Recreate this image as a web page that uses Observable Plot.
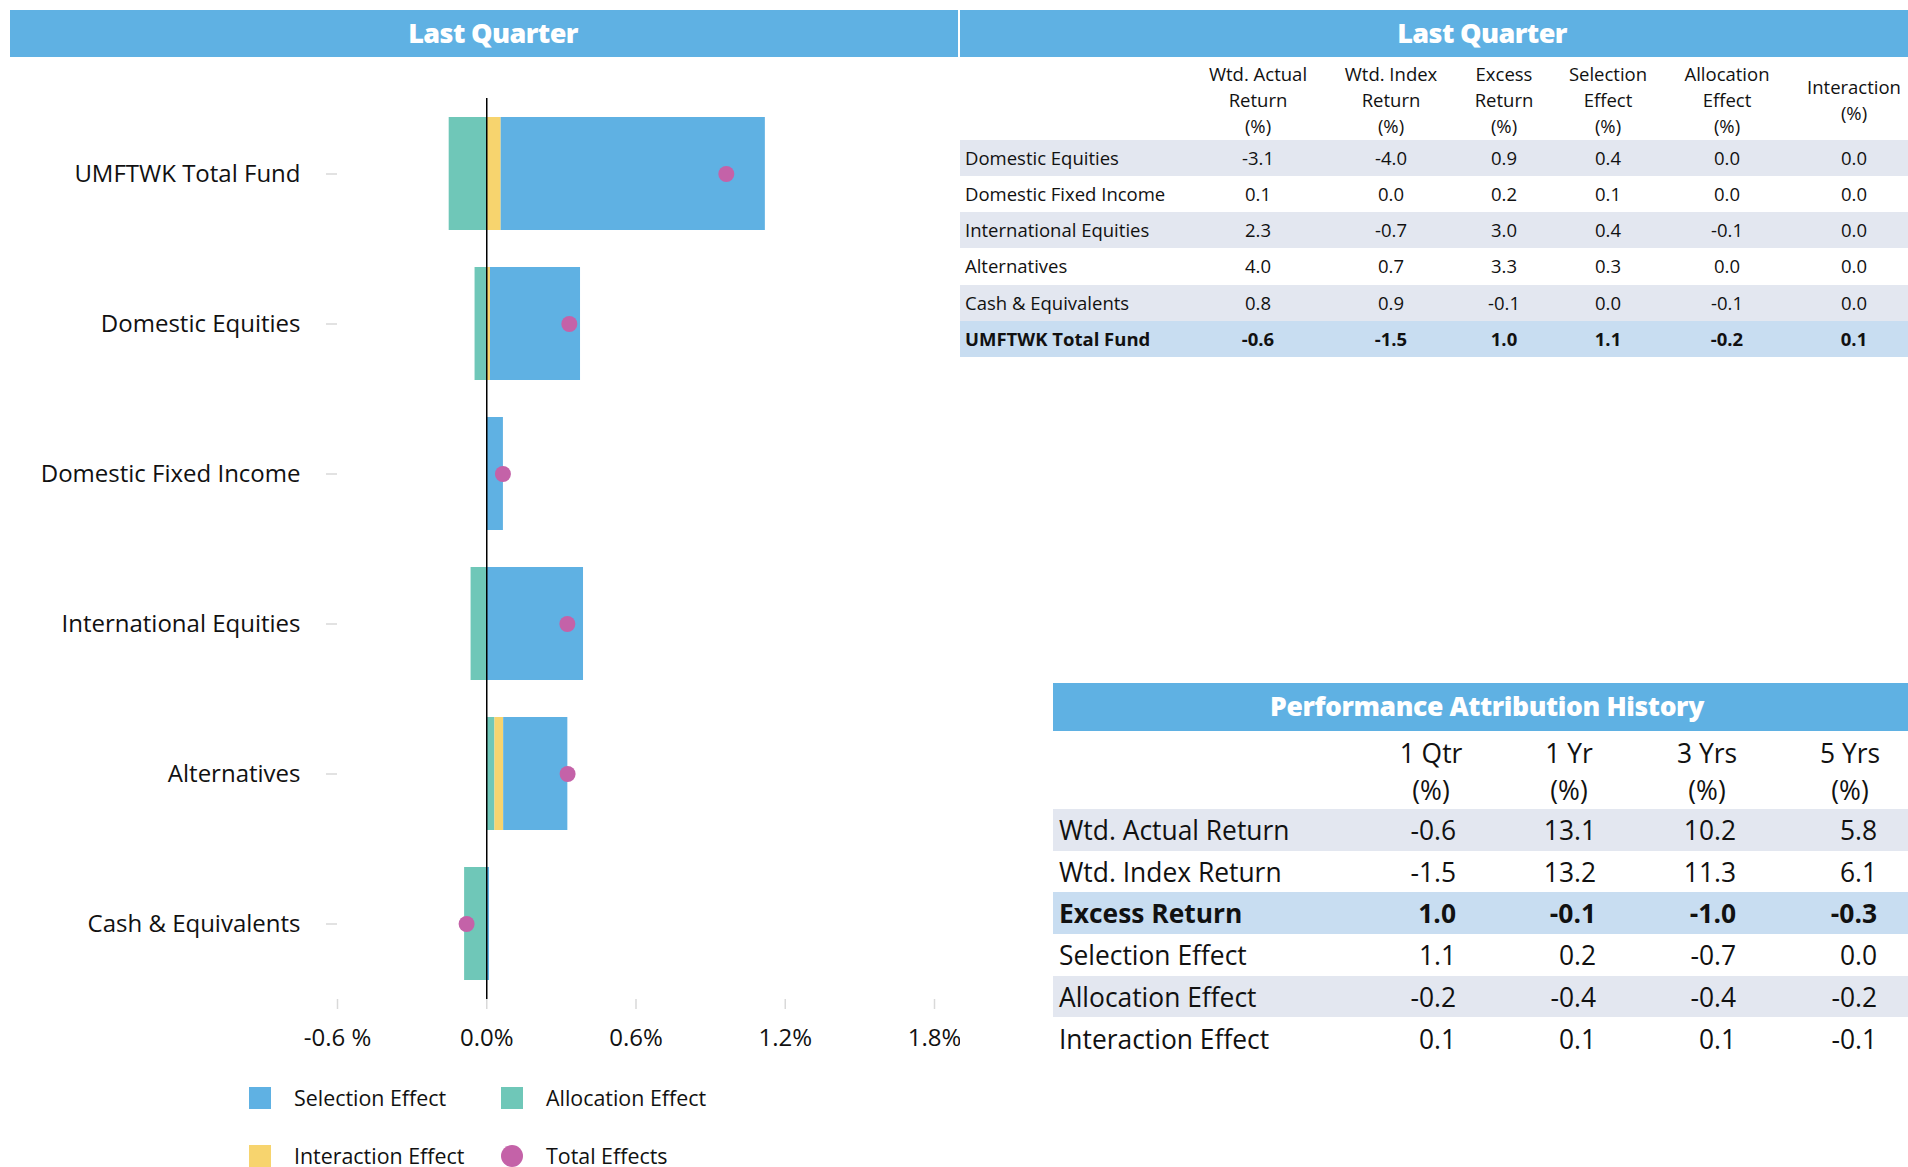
<!DOCTYPE html>
<html>
<head>
<meta charset="utf-8">
<script src="https://cdn.jsdelivr.net/npm/d3@7"></script>
<script src="https://cdn.jsdelivr.net/npm/@observablehq/plot@0.6"></script>
<style>
  html, body { margin: 0; padding: 0; background: #fff; }
  body { width: 1908px; height: 1167px; overflow: hidden; position: relative; font-family: "Open Sans", sans-serif; color: #111; }
  .hdr { position: absolute; background: #5fb1e3; color: #fff; font-weight: 800; text-align: center; letter-spacing: -0.6px; white-space: nowrap; }
  .abs { position: absolute; white-space: nowrap; }
  .row { position: absolute; }
</style>
</head>
<body>
<div class="hdr" style="left:10px; top:10px; width:930px; padding-left:18px; height:47px; line-height:46px; font-size:27px;">Last Quarter</div>
<div class="hdr" style="left:960px; top:10px; width:1044px; height:47px; line-height:46px; font-size:27px;">Last Quarter</div>
<div class="hdr" style="left:1053px; top:683px; width:868px; height:48px; line-height:47px; font-size:26.5px; letter-spacing:-0.4px;">Performance Attribution History</div>
<div id="chart" style="position:absolute; left:0; top:60px;"></div>
<div id="legend"></div>
<div id="tbl1"></div>
<div id="tbl2"></div>
<script>
// ---------- Chart data ----------
const categories = ["UMFTWK Total Fund", "Domestic Equities", "Domestic Fixed Income", "International Equities", "Alternatives", "Cash & Equivalents"];
const allocationEffect = [-0.151, -0.047, 0.0, -0.063, 0.033, -0.089];
const interactionEffect = [0.058, 0.015, 0.0, 0.0, 0.035, 0.0];
const selectionEffect = [1.062, 0.362, 0.067, 0.389, 0.258, 0.011];
const totalEffects = [0.963, 0.332, 0.065, 0.324, 0.325, -0.081];
const xTicks = [-0.6, 0, 0.6, 1.2, 1.8];
const xTickLabels = ["-0.6 %", "0.0%", "0.6%", "1.2%", "1.8%"];
const seriesNames = ["Selection Effect", "Allocation Effect", "Interaction Effect"];
const seriesColors = ["#5fb1e3", "#6fc7b8", "#f7d46e"];
const totalName = "Total Effects";
const totalColor = "#c462a8";

// ---------- Last Quarter table data ----------
const qtrRows = ["Domestic Equities", "Domestic Fixed Income", "International Equities", "Alternatives", "Cash & Equivalents", "UMFTWK Total Fund"];
const qtrHeaders = [["Wtd. Actual", "Return", "(%)"], ["Wtd. Index", "Return", "(%)"], ["Excess", "Return", "(%)"], ["Selection", "Effect", "(%)"], ["Allocation", "Effect", "(%)"], ["Interaction", "(%)"]];
const qtrActual = ["-3.1", "0.1", "2.3", "4.0", "0.8", "-0.6"];
const qtrIndex = ["-4.0", "0.0", "-0.7", "0.7", "0.9", "-1.5"];
const qtrExcess = ["0.9", "0.2", "3.0", "3.3", "-0.1", "1.0"];
const qtrSelection = ["0.4", "0.1", "0.4", "0.3", "0.0", "1.1"];
const qtrAllocation = ["0.0", "0.0", "-0.1", "0.0", "-0.1", "-0.2"];
const qtrInteraction = ["0.0", "0.0", "0.0", "0.0", "0.0", "0.1"];

// ---------- History table data ----------
const histRows = ["Wtd. Actual Return", "Wtd. Index Return", "Excess Return", "Selection Effect", "Allocation Effect", "Interaction Effect"];
const histPeriods = ["1 Qtr", "1 Yr", "3 Yrs", "5 Yrs"];
const hist1Qtr = ["-0.6", "-1.5", "1.0", "1.1", "-0.2", "0.1"];
const hist1Yr = ["13.1", "13.2", "-0.1", "0.2", "-0.4", "0.1"];
const hist3Yrs = ["10.2", "11.3", "-1.0", "-0.7", "-0.4", "0.1"];
const hist5Yrs = ["5.8", "6.1", "-0.3", "0.0", "-0.2", "-0.1"];

// ---------- Build chart ----------
const stacked = [];
categories.forEach((c, i) => {
  stacked.push({cat: c, effect: "Allocation Effect", value: allocationEffect[i]});
  stacked.push({cat: c, effect: "Interaction Effect", value: interactionEffect[i]});
  stacked.push({cat: c, effect: "Selection Effect", value: selectionEffect[i]});
});
const totals = categories.map((c, i) => ({cat: c, total: totalEffects[i]}));

const chart = Plot.plot({
  width: 960,
  height: 1000,
  marginLeft: 337,
  marginRight: 26,
  marginTop: 38,
  marginBottom: 61,
  style: {fontFamily: "Open Sans", background: "transparent", color: "#111"},
  x: {domain: [-0.6, 1.8], label: null},
  y: {domain: categories, paddingInner: 0.25, paddingOuter: 0.125, label: null},
  color: {domain: seriesNames, range: seriesColors},
  marks: [
    Plot.barX(stacked, Plot.stackX({x: "value", y: "cat", fill: "effect", order: null})),
    Plot.ruleX([0], {stroke: "#000", strokeWidth: 1.5}),
    Plot.dot(totals, {x: "total", y: "cat", r: 8, fill: totalColor, stroke: null}),
    Plot.axisX({ticks: xTicks, tickFormat: d => xTickLabels[xTicks.indexOf(d)], tickSize: 10, tickPadding: 19, stroke: "#d9d9d9", strokeWidth: 1.5, fill: "#111", fontSize: 24, label: null}),
    Plot.axisY({tickSize: 11, tickPadding: 26, stroke: "#d9d9d9", strokeWidth: 1.5, fill: "#111", fontSize: 24, label: null})
  ]
});
document.getElementById("chart").appendChild(chart);

// ---------- Legend ----------
const legend = document.getElementById("legend");
const legItems = [
  {name: seriesNames[0], color: seriesColors[0], shape: "sq"},
  {name: seriesNames[1], color: seriesColors[1], shape: "sq"},
  {name: seriesNames[2], color: seriesColors[2], shape: "sq"},
  {name: totalName, color: totalColor, shape: "circle"}
];
const legX = [249, 501], legY = [1098, 1156];
legItems.forEach((it, i) => {
  const cx = legX[i % 2], cy = legY[Math.floor(i / 2)];
  const sw = document.createElement("div");
  sw.className = "abs";
  sw.style.cssText = `left:${cx}px; top:${cy - 11}px; width:22px; height:22px; background:${it.color}; ${it.shape === "circle" ? "border-radius:50%;" : ""}`;
  legend.appendChild(sw);
  const tx = document.createElement("div");
  tx.className = "abs";
  tx.style.cssText = `left:${cx + 45}px; top:${cy - 15}px; height:30px; line-height:30px; font-size:21.4px; color:#111;`;
  tx.textContent = it.name;
  legend.appendChild(tx);
});

// ---------- Helpers ----------
function addText(parent, txt, css) {
  const d = document.createElement("div");
  d.className = "abs";
  d.style.cssText = css;
  d.textContent = txt;
  parent.appendChild(d);
}

// ---------- Table 1 ----------
const t1 = document.getElementById("tbl1");
const t1Cols = [qtrActual, qtrIndex, qtrExcess, qtrSelection, qtrAllocation, qtrInteraction];
const t1Centers = [1258, 1391, 1504, 1608, 1727, 1854];
const t1Fs = 18.5;
qtrHeaders.forEach((lines, j) => {
  const lh = 26, mid = 100;
  const top0 = mid - lines.length * lh / 2;
  lines.forEach((ln, k) => {
    addText(t1, ln, `left:${t1Centers[j] - 70}px; width:140px; text-align:center; top:${top0 + k * lh}px; height:${lh}px; line-height:${lh}px; font-size:${t1Fs}px;`);
  });
});
const t1Top = 139.5, t1H = 36.3;
const t1Bg = ["#e3e7f0", "#ffffff", "#e3e7f0", "#ffffff", "#e3e7f0", "#c8ddf1"];
qtrRows.forEach((r, i) => {
  const top = t1Top + i * t1H;
  const bold = i === qtrRows.length - 1 ? "font-weight:700;" : "";
  const bg = document.createElement("div");
  bg.className = "row";
  bg.style.cssText = `left:960px; width:960px; top:${top}px; height:${t1H}px; background:${t1Bg[i]};`;
  t1.appendChild(bg);
  addText(t1, r, `left:965px; top:${top}px; height:${t1H}px; line-height:${t1H}px; font-size:${t1Fs}px; ${bold}`);
  t1Cols.forEach((col, j) => {
    addText(t1, col[i], `left:${t1Centers[j] - 60}px; width:120px; text-align:center; top:${top}px; height:${t1H}px; line-height:${t1H}px; font-size:${t1Fs}px; ${bold}`);
  });
});

// ---------- Table 2 ----------
const t2 = document.getElementById("tbl2");
const t2Cols = [hist1Qtr, hist1Yr, hist3Yrs, hist5Yrs];
const t2Centers = [1431, 1569, 1707, 1850];
const t2Right = [1456, 1596, 1736, 1877];
const t2Fs = 26.4;
histPeriods.forEach((p, j) => {
  addText(t2, p, `left:${t2Centers[j] - 70}px; width:140px; text-align:center; top:${753 - 18}px; height:36px; line-height:36px; font-size:${t2Fs}px;`);
  addText(t2, "(%)", `left:${t2Centers[j] - 70}px; width:140px; text-align:center; top:${790 - 18}px; height:36px; line-height:36px; font-size:${t2Fs}px;`);
});
const t2Top = 809, t2H = 41.7;
const t2Bg = ["#e3e7f0", "#ffffff", "#c8ddf1", "#ffffff", "#e3e7f0", "#ffffff"];
histRows.forEach((r, i) => {
  const top = t2Top + i * t2H;
  const bold = i === 2 ? "font-weight:700;" : "";
  const bg = document.createElement("div");
  bg.className = "row";
  bg.style.cssText = `left:1053px; width:900px; top:${top}px; height:${t2H}px; background:${t2Bg[i]};`;
  t2.appendChild(bg);
  addText(t2, r, `left:1059px; top:${top + 1}px; height:${t2H}px; line-height:${t2H}px; font-size:${t2Fs}px; ${bold}`);
  t2Cols.forEach((col, j) => {
    addText(t2, col[i], `left:${t2Right[j] - 150}px; width:150px; text-align:right; top:${top + 1}px; height:${t2H}px; line-height:${t2H}px; font-size:${t2Fs}px; ${bold}`);
  });
});
</script>
</body>
</html>
